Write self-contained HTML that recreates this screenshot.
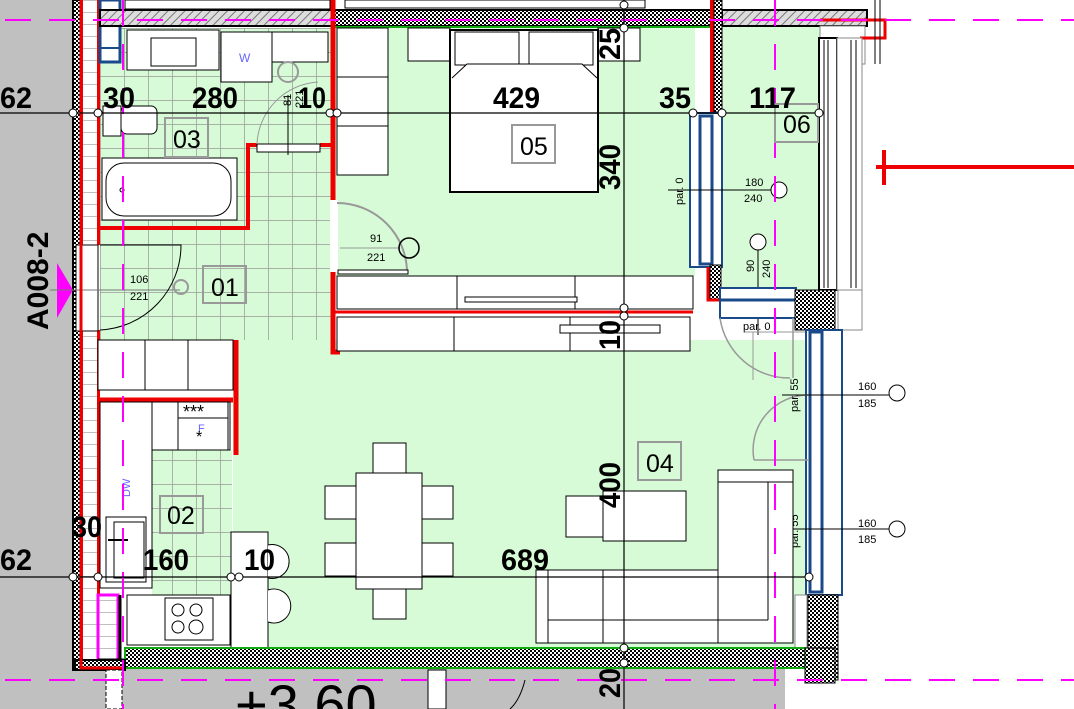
<!DOCTYPE html>
<html><head><meta charset="utf-8"><style>
html,body{margin:0;padding:0;background:#fff;}
svg{display:block;}
.d{font-family:"Liberation Sans",sans-serif;font-weight:bold;font-size:30px;fill:#000;}
.s{font-family:"Liberation Sans",sans-serif;font-size:11px;fill:#000;}
.r{font-family:"Liberation Sans",sans-serif;font-size:25px;fill:#000;}
</style></head><body>
<svg width="1074" height="709" viewBox="0 0 1074 709" xmlns="http://www.w3.org/2000/svg">
<defs>
<pattern id="tile" width="24" height="24" patternUnits="userSpaceOnUse" x="4" y="4">
<rect width="24" height="24" fill="#d6fbd6"/><path d="M0 0H24M0 0V24" stroke="#999" stroke-width="1.5"/></pattern>
<pattern id="dots" width="4" height="4" patternUnits="userSpaceOnUse">
<rect width="4" height="4" fill="#fff"/><rect width="2" height="2" fill="#000"/><rect x="2" y="2" width="2" height="2" fill="#000"/></pattern>
<pattern id="hatch" width="6" height="6" patternUnits="userSpaceOnUse" patternTransform="rotate(45)">
<rect width="6" height="6" fill="#ddd"/><path d="M0 0V6" stroke="#777" stroke-width="2"/></pattern>
<pattern id="wt" width="16" height="12" patternUnits="userSpaceOnUse">
<rect width="16" height="12" fill="#fff"/><path d="M0 0H16" stroke="#aaa" stroke-width="1.5"/></pattern>
</defs>
<rect x="0" y="0" width="75" height="709" fill="#c0c0c0"/>
<rect x="75" y="668" width="710" height="41" fill="#c0c0c0"/>
<rect x="428" y="670" width="18" height="39" fill="#fff" stroke="#000"/>
<path d="M525 680 Q520 700 510 709" fill="none" stroke="#000"/>
<text x="235" y="724" font-family="Liberation Sans,sans-serif" font-size="56" fill="#000">+3,60</text>

<rect x="335" y="26" width="360" height="250" fill="#d6fbd6"/>
<rect x="722" y="26" width="100" height="268" fill="#d6fbd6"/>
<rect x="233" y="340" width="577" height="310" fill="#d6fbd6"/>
<rect x="100" y="28" width="232" height="312" fill="url(#tile)"/>
<rect x="152" y="450" width="80" height="146" fill="url(#tile)"/>

<rect x="73" y="0" width="8" height="670" fill="url(#dots)" stroke="#000" stroke-width="2"/>
<rect x="82" y="0" width="16" height="670" fill="url(#wt)"/>
<rect x="80" y="0" width="3" height="670" fill="#e00"/>
<rect x="97" y="0" width="3" height="245" fill="#e00"/>
<rect x="97" y="330" width="3" height="330" fill="#e00"/>
<rect x="76" y="245" width="22" height="86" fill="#fff" stroke="#000"/>
<rect x="100" y="0" width="20" height="62" fill="#fff" stroke="#1a4a8a" stroke-width="3"/>
<path d="M100 20H120M100 48H120" stroke="#1a4a8a" stroke-width="2"/>
<polygon points="57,263 73,290 57,318" fill="#f0f"/>
<text x="48" y="330" transform="rotate(-90 48 330)" class="d" font-size="22">A008-2</text>
<path d="M50 290H180" stroke="#777" stroke-width="1"/>

<rect x="100" y="10" width="232" height="16" fill="url(#hatch)" stroke="#000" stroke-width="2"/>
<rect x="332" y="10" width="388" height="16" fill="url(#dots)" stroke="#000" stroke-width="2"/>
<path d="M332 27H720" stroke="#1a1" stroke-width="2"/>
<rect x="722" y="10" width="145" height="16" fill="url(#hatch)" stroke="#000" stroke-width="2"/>
<rect x="125" y="0" width="205" height="9" fill="#fff" stroke="#000"/>
<rect x="345" y="0" width="300" height="8" fill="#fff" stroke="#000"/>
<rect x="820" y="26" width="45" height="38" fill="#fff" stroke="#888"/>
<path d="M820 20H885V38H860" fill="none" stroke="#e00" stroke-width="3"/>

<rect x="127" y="30" width="92" height="40" fill="#fff" stroke="#000"/>
<rect x="151" y="38" width="45" height="28" fill="#fff" stroke="#000"/>
<rect x="221" y="32" width="51" height="50" fill="#fff" stroke="#000"/>
<text x="239" y="62" font-family="Liberation Sans,sans-serif" font-size="12" fill="#66f">W</text>
<rect x="272" y="32" width="56" height="30" fill="#fff" stroke="#000"/>
<circle cx="288" cy="72" r="10" fill="none" stroke="#999" stroke-width="2"/>
<rect x="103" y="106" width="18" height="30" fill="#fff" stroke="#000"/>
<rect x="121" y="106" width="36" height="28" rx="6" fill="#fff" stroke="#000"/>
<rect x="102" y="158" width="135" height="62" fill="#fff" stroke="#000"/>
<rect x="106" y="163" width="125" height="53" rx="18" fill="#fff" stroke="#000"/>
<circle cx="122" cy="190" r="2" fill="none" stroke="#000"/>
<path d="M100 228H248V145H257M320 145H333" fill="none" stroke="#e00" stroke-width="4"/>
<rect x="257" y="144" width="63" height="8" fill="#fff" stroke="#000"/>
<path d="M257 144 A65 65 0 0 1 318 82" fill="none" stroke="#999"/>
<path d="M288 95V155" stroke="#000"/>
<text x="291" y="106" class="s" transform="rotate(-90 291 106)" font-size="10">81</text>
<text x="303" y="108" class="s" transform="rotate(-90 303 108)" font-size="10">221</text>

<path d="M333 0V200M333 272V352H340" fill="none" stroke="#e00" stroke-width="5"/>
<rect x="330" y="200" width="8" height="72" fill="#fff"/>
<path d="M337 203 A70 70 0 0 1 407 272" fill="none" stroke="#999" stroke-width="2"/>
<path d="M340 248H400" stroke="#999"/>
<circle cx="409" cy="248" r="10" fill="none" stroke="#000" stroke-width="1.5"/>
<text x="370" y="242" class="s">91</text>
<text x="367" y="261" class="s">221</text>
<rect x="338" y="270" width="70" height="4" fill="#fff" stroke="#000"/>

<path d="M100 245H181 A85 85 0 0 1 100 330" fill="none" stroke="#000"/>
<circle cx="181" cy="287" r="7" fill="none" stroke="#999" stroke-width="2"/>
<text x="130" y="283" class="s">106</text>
<text x="130" y="300" class="s">221</text>

<rect x="337" y="28" width="51" height="147" fill="#fff" stroke="#000"/>
<path d="M337 77H388M337 126H388" stroke="#000"/>
<rect x="408" y="28" width="42" height="33" fill="#fff" stroke="#000"/>
<rect x="598" y="28" width="42" height="33" fill="#fff" stroke="#000"/>
<rect x="450" y="30" width="148" height="162" fill="#fff" stroke="#000" stroke-width="2"/>
<rect x="455" y="32" width="64" height="33" fill="#fff" stroke="#000"/>
<rect x="529" y="32" width="64" height="33" fill="#fff" stroke="#000"/>
<path d="M452 78L467 64H582L597 78" fill="#fff" stroke="#000"/>
<rect x="337" y="276" width="356" height="33" fill="#fff" stroke="#000"/>
<path d="M457 276V309M575 276V309" stroke="#000"/>
<rect x="465" y="297" width="112" height="5" fill="#fff" stroke="#000"/>
<path d="M333 312H693" stroke="#e00" stroke-width="3"/>
<rect x="337" y="317" width="353" height="34" fill="#fff" stroke="#000"/>
<path d="M454 317V351M570 317V351" stroke="#000"/>
<rect x="560" y="325" width="100" height="8" fill="#fff" stroke="#000"/>

<path d="M712 0V112" stroke="#e00" stroke-width="4"/>
<rect x="714" y="0" width="8" height="112" fill="url(#dots)" stroke="#000"/>
<rect x="690" y="113" width="32" height="154" fill="#fff" stroke="#1a4a8a" stroke-width="2"/>
<rect x="700" y="116" width="12" height="148" fill="#fff" stroke="#1a4a8a" stroke-width="3"/>
<rect x="710" y="265" width="11" height="35" fill="url(#dots)" stroke="#000"/>
<path d="M708 267V300H722" fill="none" stroke="#e00" stroke-width="3"/>
<text x="683" y="205" class="s" font-size="9" transform="rotate(-90 683 205)">par. 0</text>
<path d="M668 190H772" stroke="#000"/>
<circle cx="779" cy="190" r="8" fill="#fff" stroke="#000"/>
<text x="745" y="186" class="s">180</text>
<text x="744" y="202" class="s">240</text>
<circle cx="758" cy="242" r="8" fill="#fff" stroke="#000"/>
<path d="M758 250V335" stroke="#000"/>
<text x="754" y="272" class="s" transform="rotate(-90 754 272)">90</text>
<text x="770" y="278" class="s" transform="rotate(-90 770 278)">240</text>
<rect x="819" y="38" width="18" height="252" fill="#fff" stroke="#000" stroke-width="2"/>
<path d="M824 40V288M828 40V288" stroke="#000"/>
<rect x="837" y="38" width="25" height="252" fill="#fff" stroke="#888"/>
<path d="M851 40V288M856 40V288" stroke="#000"/>
<rect x="838" y="290" width="24" height="40" fill="#fff" stroke="#888"/>
<path d="M875 0V64M880 0V64" stroke="#000"/>
<rect x="720" y="288" width="76" height="30" fill="#fff" stroke="#1a4a8a" stroke-width="2"/>
<path d="M720 300H796" stroke="#1a4a8a" stroke-width="3"/>
<rect x="795" y="290" width="40" height="40" fill="url(#dots)" stroke="#000"/>
<path d="M720 318 A70 70 0 0 0 790 378M793 318V378" fill="none" stroke="#999" stroke-width="1.5"/>
<path d="M753 332V380M745 332H805" stroke="#999"/>
<text x="743" y="330" class="s" font-size="10">par. 0</text>
<path d="M876 167H1074M884 150V185" stroke="#e00" stroke-width="4"/>

<rect x="806" y="330" width="36" height="265" fill="#fff" stroke="#1a4a8a" stroke-width="2"/>
<rect x="810" y="332" width="12" height="260" fill="#fff" stroke="#1a4a8a" stroke-width="3"/>
<path d="M754 460 A55 55 0 0 1 809 395M754 460H809" fill="none" stroke="#999" stroke-width="1.5"/>
<path d="M782 395H892M782 529H892" stroke="#000"/>
<circle cx="897" cy="393" r="8" fill="#fff" stroke="#000"/>
<circle cx="897" cy="529" r="8" fill="#fff" stroke="#000"/>
<text x="858" y="390" class="s">160</text><text x="858" y="407" class="s">185</text>
<text x="858" y="527" class="s">160</text><text x="858" y="543" class="s">185</text>
<text x="798" y="412" class="s" font-size="10" transform="rotate(-90 798 412)">par. 55</text>
<text x="798" y="548" class="s" font-size="10" transform="rotate(-90 798 548)">par. 55</text>
<rect x="808" y="595" width="30" height="85" fill="url(#dots)" stroke="#000"/>
<rect x="795" y="595" width="12" height="70" fill="#fff" stroke="#888"/>

<rect x="98" y="340" width="135" height="50" fill="#fff" stroke="#000"/>
<path d="M145 340V390M188 340V390" stroke="#000"/>
<path d="M236 340V455M98 400H233" fill="none" stroke="#e00" stroke-width="5"/>
<rect x="100" y="402" width="130" height="48" fill="#fff" stroke="#000"/>
<rect x="100" y="402" width="52" height="186" fill="#fff" stroke="#000"/>
<rect x="101" y="403" width="50" height="50" fill="#fff"/>
<rect x="178" y="402" width="50" height="48" fill="#fff" stroke="#000"/>
<path d="M178 418H228" stroke="#000"/>
<text x="183" y="418" font-family="Liberation Sans,sans-serif" font-size="18" fill="#000">***</text>
<text x="198" y="432" font-family="Liberation Sans,sans-serif" font-size="11" fill="#66f">F</text>
<text x="196" y="442" font-family="Liberation Sans,sans-serif" font-size="16" fill="#000">*</text>
<text x="130" y="497" class="s" transform="rotate(-90 130 497)" style="fill:#66f">DW</text>
<rect x="106" y="517" width="40" height="65" fill="#fff" stroke="#000"/>
<rect x="114" y="522" width="30" height="56" fill="#fff" stroke="#000"/>
<path d="M108 540H128" stroke="#000" stroke-width="2"/>
<rect x="127" y="595" width="103" height="50" fill="#fff" stroke="#000"/>
<rect x="165" y="598" width="48" height="42" fill="#fff" stroke="#000"/>
<circle cx="178" cy="610" r="6" fill="none" stroke="#000"/><circle cx="196" cy="610" r="6" fill="none" stroke="#000"/>
<circle cx="178" cy="627" r="6" fill="none" stroke="#000"/><circle cx="196" cy="627" r="7" fill="none" stroke="#000"/>
<rect x="98" y="595" width="20" height="65" fill="url(#wt)" stroke="#f0f" stroke-width="3"/>
<path d="M120 595V660M98 660H125" stroke="#000" stroke-width="3"/>
<rect x="231" y="532" width="37" height="116" fill="#fff" stroke="#000"/>
<path d="M268 545 A17 17 0 1 1 268 578M268 590 A17 17 0 1 1 268 622" fill="#fff" stroke="#000"/>

<rect x="373" y="443" width="33" height="30" fill="#fff" stroke="#000"/>
<rect x="373" y="589" width="33" height="30" fill="#fff" stroke="#000"/>
<rect x="325" y="486" width="31" height="33" fill="#fff" stroke="#000"/>
<rect x="325" y="543" width="31" height="33" fill="#fff" stroke="#000"/>
<rect x="422" y="486" width="31" height="33" fill="#fff" stroke="#000"/>
<rect x="422" y="543" width="31" height="33" fill="#fff" stroke="#000"/>
<rect x="356" y="473" width="66" height="116" fill="#fff" stroke="#000"/>

<rect x="566" y="496" width="38" height="41" fill="#fff" stroke="#000"/>
<rect x="603" y="491" width="83" height="50" fill="#fff" stroke="#000"/>
<rect x="536" y="570" width="257" height="73" fill="#fff" stroke="#000"/>
<rect x="718" y="470" width="75" height="173" fill="#fff" stroke="#000"/>
<path d="M718 482H793M768 482V620M548 620H768M548 570V643M603 570V643M718 570V643" fill="none" stroke="#000"/>

<rect x="125" y="648" width="680" height="20" fill="url(#dots)" stroke="#1a1" stroke-width="2"/>
<rect x="805" y="648" width="30" height="35" fill="url(#dots)" stroke="#000"/>
<rect x="75" y="660" width="50" height="10" fill="url(#dots)" stroke="#000" stroke-width="2"/>
<path d="M81 0V668H122" fill="none" stroke="#e00" stroke-width="3"/>
<rect x="106" y="670" width="16" height="39" fill="#fff" stroke="#000" stroke-dasharray="4 2"/>

<g stroke="#f0f" stroke-width="2" stroke-dasharray="26 18" fill="none">
<path d="M5 20H1074M5 680H1074M123 0V709M775 0V709"/>
</g>

<g fill="none" stroke="#999" stroke-width="2">
<rect x="165" y="118" width="43" height="39"/><rect x="203" y="266" width="43" height="37"/>
<rect x="512" y="125" width="43" height="38"/><rect x="775" y="104" width="43" height="38"/>
<rect x="638" y="442" width="43" height="38"/><rect x="160" y="496" width="43" height="37"/>
</g>
<text x="173" y="148" class="r">03</text><text x="211" y="296" class="r">01</text>
<text x="520" y="155" class="r">05</text><text x="783" y="133" class="r">06</text>
<text x="646" y="472" class="r">04</text><text x="167" y="524" class="r">02</text>

<path d="M0 113H820M0 577H810M624 0V709" stroke="#000" stroke-width="1.2"/>
<g fill="#fff" stroke="#000">
<circle cx="73" cy="113" r="4"/><circle cx="98" cy="113" r="4"/><circle cx="330" cy="113" r="4"/><circle cx="337" cy="113" r="4"/>
<circle cx="693" cy="113" r="4"/><circle cx="722" cy="113" r="4"/><circle cx="819" cy="113" r="4"/>
<circle cx="73" cy="577" r="4"/><circle cx="98" cy="577" r="4"/><circle cx="231" cy="577" r="4"/><circle cx="239" cy="577" r="4"/><circle cx="809" cy="577" r="4"/>
<circle cx="624" cy="5" r="4"/><circle cx="624" cy="28" r="4"/><circle cx="624" cy="308" r="4"/><circle cx="624" cy="316" r="4"/><circle cx="624" cy="648" r="4"/><circle cx="624" cy="663" r="4"/>
</g>
<text x="0" y="108" class="d" textLength="32" lengthAdjust="spacingAndGlyphs">62</text>
<text x="103" y="108" class="d" textLength="32" lengthAdjust="spacingAndGlyphs">30</text>
<text x="192" y="108" class="d" textLength="46" lengthAdjust="spacingAndGlyphs">280</text>
<text x="298" y="108" class="d" textLength="28" lengthAdjust="spacingAndGlyphs">10</text>
<text x="493" y="108" class="d" textLength="47" lengthAdjust="spacingAndGlyphs">429</text>
<text x="659" y="108" class="d" textLength="32" lengthAdjust="spacingAndGlyphs">35</text>
<text x="749" y="108" class="d" textLength="47" lengthAdjust="spacingAndGlyphs">117</text>
<text x="0" y="570" class="d" textLength="32" lengthAdjust="spacingAndGlyphs">62</text>
<text x="72" y="537" class="d" textLength="30" lengthAdjust="spacingAndGlyphs">30</text>
<text x="143" y="570" class="d" textLength="46" lengthAdjust="spacingAndGlyphs">160</text>
<text x="244" y="570" class="d" textLength="31" lengthAdjust="spacingAndGlyphs">10</text>
<text x="501" y="570" class="d" textLength="48" lengthAdjust="spacingAndGlyphs">689</text>
<text x="620" y="60" class="d" transform="rotate(-90 620 60)" textLength="32" lengthAdjust="spacingAndGlyphs">25</text>
<text x="620" y="190" class="d" transform="rotate(-90 620 190)" textLength="46" lengthAdjust="spacingAndGlyphs">340</text>
<text x="620" y="350" class="d" transform="rotate(-90 620 350)" textLength="30" lengthAdjust="spacingAndGlyphs">10</text>
<text x="620" y="508" class="d" transform="rotate(-90 620 508)" textLength="46" lengthAdjust="spacingAndGlyphs">400</text>
<text x="620" y="698" class="d" transform="rotate(-90 620 698)" textLength="30" lengthAdjust="spacingAndGlyphs">20</text>
</svg>
</body></html>
